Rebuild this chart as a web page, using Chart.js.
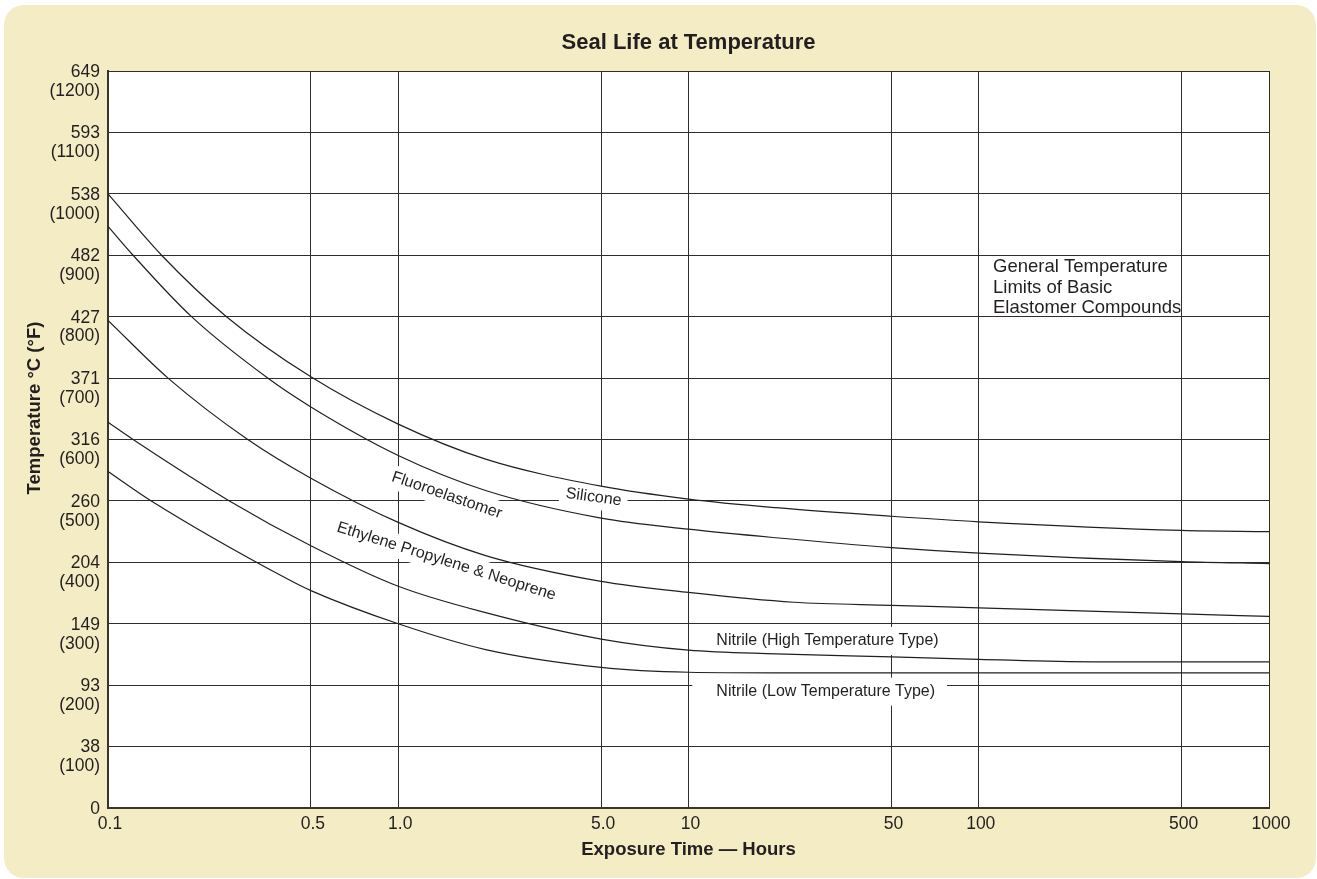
<!DOCTYPE html>
<html>
<head>
<meta charset="utf-8">
<title>Seal Life at Temperature</title>
<script src="https://cdn.jsdelivr.net/npm/chart.js@4.4.1/dist/chart.umd.min.js"></script>
<style>
  html, body { margin: 0; padding: 0; background: #fff; }
  #wrap { width: 1317px; height: 879px; position: relative; }
</style>
</head>
<body>
<div id="wrap"><canvas id="sealChart"></canvas></div>
<script>
// --- Axis ticks ---
const xTickValues = [0.1, 0.5, 1, 5, 10, 50, 100, 500, 1000];
const xTickLabels = ['0.1', '0.5', '1.0', '5.0', '10', '50', '100', '500', '1000'];

const yTickValues  = [0, 100, 200, 300, 400, 500, 600, 700, 800, 900, 1000, 1100, 1200];
const yTickCelsius = ['0', '38', '93', '149', '204', '260', '316', '371', '427', '482', '538', '593', '649'];

// --- Curves: exposure hours -> temperature (°F) ---
const siliconeHours = [0.1, 0.153, 0.256, 0.5, 1, 2, 5, 10, 20, 50, 100, 500, 1000];
const siliconeTemp  = [1000, 900, 800, 702, 625, 568, 524, 503, 489, 475, 466, 452, 450];

const fluoroHours = [0.1, 0.122, 0.194, 0.355, 0.5, 1, 2, 5, 10, 20, 50, 100, 500, 1000];
const fluoroTemp  = [947, 900, 800, 700, 653, 574, 517, 472, 454, 440, 424, 415, 401, 398];

const epHours = [0.1, 0.161, 0.303, 0.5, 1, 2, 5, 10, 23, 50, 100, 500, 1000];
const epTemp  = [794, 700, 600, 537, 465, 411, 369, 351, 335, 330, 326, 316, 312];

const nitrileHighHours = [0.1, 0.122, 0.262, 0.5, 1, 2, 5, 10, 20, 50, 100, 250, 1000];
const nitrileHighTemp  = [628, 600, 500, 427, 361, 318, 275, 257, 251, 246, 242, 238, 238];

const nitrileLowHours = [0.1, 0.141, 0.411, 0.5, 1, 2, 5, 10, 20, 1000];
const nitrileLowTemp  = [548, 500, 374, 354, 300, 258, 229, 221, 220, 220];

// --- In-plot labels ---
const curveLabels = ['Silicone', 'Fluoroelastomer', 'Ethylene Propylene & Neoprene',
                     'Nitrile (High Temperature Type)', 'Nitrile (Low Temperature Type)'];
const labelHours  = [4.71, 1.47, 1.464, 12.47, 12.47];
const labelTemps  = [506, 509, 401.5, 272, 189.5];

const noteLines = ['General Temperature', 'Limits of Basic', 'Elastomer Compounds'];
const noteHours = 112;
const noteTemp  = 881;

const INK = '#231f20';
const SANS = '"Liberation Sans", Arial, Helvetica, sans-serif';

const zip = (xs, ys) => xs.map((x, i) => ({ x, y: ys[i] }));

function curve(label, hours, temps) {
  return {
    label,
    data: zip(hours, temps),
    borderColor: INK,
    borderWidth: 1.2,
    pointRadius: 0,
    cubicInterpolationMode: 'monotone',
    fill: false,
  };
}

// beige panel + white plot area
const panelPlugin = {
  id: 'panel',
  beforeDraw(chart) {
    const { ctx, chartArea: a } = chart;
    ctx.save();
    ctx.fillStyle = '#f3ecc4';
    ctx.beginPath();
    ctx.roundRect(4, 5, 1312, 873, 20);
    ctx.fill();
    ctx.fillStyle = '#ffffff';
    ctx.fillRect(a.left, a.top, a.right - a.left, a.bottom - a.top);
    ctx.restore();
  }
};

// curve names with white boxes that break the grid
const labelPlugin = {
  id: 'curveLabels',
  beforeDatasetsDraw(chart) {
    const { ctx, scales: { x, y } } = chart;
    const angles = [7.7, 19, 17.5, 0, 0];
    ctx.save();
    ctx.font = `16px ${SANS}`;
    ctx.textBaseline = 'middle';
    curveLabels.forEach((txt, i) => {
      const px = x.getPixelForValue(labelHours[i]);
      const py = y.getPixelForValue(labelTemps[i]);
      const w = ctx.measureText(txt).width;
      ctx.save();
      ctx.translate(px, py);
      ctx.rotate(angles[i] * Math.PI / 180);
      ctx.fillStyle = '#fff';
      if (i < 3) {
        ctx.fillRect(-w / 2 - 6, -12, w + 12, 24);
        ctx.textAlign = 'center';
      } else {
        ctx.fillRect(-24, -14, w + 36, 28);
        ctx.textAlign = 'left';
      }
      ctx.fillStyle = INK;
      ctx.fillText(txt, 0, 0);
      ctx.restore();
    });

    ctx.font = `18.5px ${SANS}`;
    ctx.textAlign = 'left';
    ctx.fillStyle = INK;
    const nx = x.getPixelForValue(noteHours);
    const ny = y.getPixelForValue(noteTemp);
    noteLines.forEach((line, i) => ctx.fillText(line, nx, ny + i * 20.7));
    ctx.restore();
  }
};

// y-axis title sits a little above the middle in the reference
const yTitlePlugin = {
  id: 'yTitle',
  afterDraw(chart) {
    const { ctx } = chart;
    ctx.save();
    ctx.translate(35, 408);
    ctx.rotate(-Math.PI / 2);
    ctx.font = `bold 18.5px ${SANS}`;
    ctx.fillStyle = INK;
    ctx.textAlign = 'center';
    ctx.textBaseline = 'middle';
    ctx.fillText('Temperature °C (°F)', 0, 0);
    ctx.restore();
  }
};

new Chart(document.getElementById('sealChart'), {
  type: 'line',
  data: {
    datasets: [
      curve('Silicone', siliconeHours, siliconeTemp),
      curve('Fluoroelastomer', fluoroHours, fluoroTemp),
      curve('Ethylene Propylene & Neoprene', epHours, epTemp),
      curve('Nitrile (High Temperature Type)', nitrileHighHours, nitrileHighTemp),
      curve('Nitrile (Low Temperature Type)', nitrileLowHours, nitrileLowTemp),
    ],
  },
  options: {
    responsive: true,
    maintainAspectRatio: false,
    animation: false,
    layout: { padding: { left: 0, right: 48, top: 0, bottom: 19 } },
    plugins: {
      legend: { display: false },
      tooltip: { enabled: false },
      title: {
        display: true,
        text: 'Seal Life at Temperature',
        fullSize: false,
        color: INK,
        font: { family: SANS, size: 22, weight: 'bold', lineHeight: 1.2 },
        padding: { top: 30, bottom: 14.6 },
      },
    },
    scales: {
      x: {
        type: 'logarithmic',
        min: 0.1,
        max: 1000,
        afterBuildTicks: axis => { axis.ticks = xTickValues.map(v => ({ value: v })); },
        afterFit: axis => { axis.height = 52; },
        grid: { color: '#2e2e2e', lineWidth: 1, drawTicks: false },
        border: { display: true, color: '#3b3528', width: 2 },
        ticks: {
          autoSkip: false,
          maxRotation: 0,
          padding: 7,
          labelOffset: 2,
          color: INK,
          font: { family: SANS, size: 17.5, lineHeight: 1.1 },
          callback: v => xTickLabels[xTickValues.indexOf(v)],
        },
        title: {
          display: true,
          text: 'Exposure Time — Hours',
          color: INK,
          font: { family: SANS, size: 18.5, weight: 'bold', lineHeight: 1.1 },
          padding: { top: 0, bottom: 0 },
        },
      },
      y: {
        type: 'linear',
        min: 0,
        max: 1200,
        afterBuildTicks: axis => { axis.ticks = yTickValues.map(v => ({ value: v })); },
        afterFit: axis => { axis.width = 108; },
        grid: { color: '#2e2e2e', lineWidth: 1, drawTicks: false },
        border: { display: true, color: '#3b3528', width: 2 },
        ticks: {
          padding: 8,
          labelOffset: 10.5,
          color: INK,
          font: { family: SANS, size: 17.5, lineHeight: 1.08 },
          callback: v => {
            const c = yTickCelsius[yTickValues.indexOf(v)];
            return v === 0 ? [c, ''] : [c, '(' + v + ')'];
          },
        },
      },
    },
  },
  plugins: [panelPlugin, labelPlugin, yTitlePlugin],
});
</script>
</body>
</html>
